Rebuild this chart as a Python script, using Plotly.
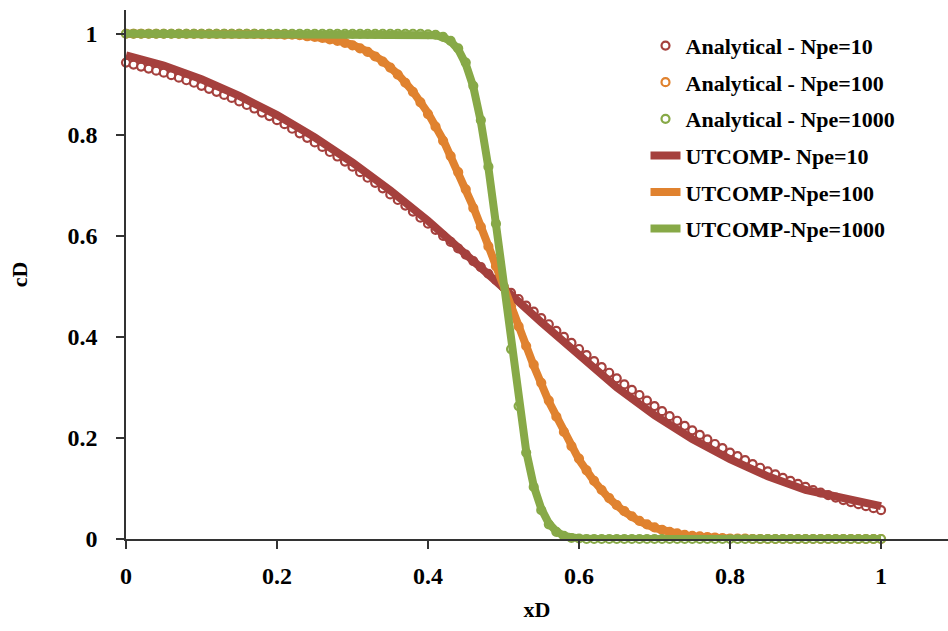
import plotly.graph_objects as go

# ---------------- data ----------------
x_analytical = [
    0.00, 0.01, 0.02, 0.03, 0.04, 0.05, 0.06, 0.07, 0.08, 0.09,
    0.10, 0.11, 0.12, 0.13, 0.14, 0.15, 0.16, 0.17, 0.18, 0.19,
    0.20, 0.21, 0.22, 0.23, 0.24, 0.25, 0.26, 0.27, 0.28, 0.29,
    0.30, 0.31, 0.32, 0.33, 0.34, 0.35, 0.36, 0.37, 0.38, 0.39,
    0.40, 0.41, 0.42, 0.43, 0.44, 0.45, 0.46, 0.47, 0.48, 0.49,
    0.50, 0.51, 0.52, 0.53, 0.54, 0.55, 0.56, 0.57, 0.58, 0.59,
    0.60, 0.61, 0.62, 0.63, 0.64, 0.65, 0.66, 0.67, 0.68, 0.69,
    0.70, 0.71, 0.72, 0.73, 0.74, 0.75, 0.76, 0.77, 0.78, 0.79,
    0.80, 0.81, 0.82, 0.83, 0.84, 0.85, 0.86, 0.87, 0.88, 0.89,
    0.90, 0.91, 0.92, 0.93, 0.94, 0.95, 0.96, 0.97, 0.98, 0.99,
    1.00,
]

analytical_npe10 = [
    0.943, 0.939, 0.935, 0.931, 0.927, 0.923, 0.918, 0.913, 0.908, 0.903,
    0.897, 0.891, 0.885, 0.879, 0.873, 0.866, 0.859, 0.852, 0.844, 0.837,
    0.829, 0.821, 0.812, 0.803, 0.794, 0.785, 0.776, 0.766, 0.757, 0.747,
    0.737, 0.726, 0.715, 0.705, 0.694, 0.682, 0.671, 0.660, 0.648, 0.636,
    0.624, 0.612, 0.600, 0.588, 0.575, 0.563, 0.550, 0.538, 0.525, 0.513,
    0.500, 0.487, 0.475, 0.462, 0.450, 0.437, 0.425, 0.412, 0.400, 0.388,
    0.376, 0.364, 0.352, 0.340, 0.329, 0.318, 0.306, 0.295, 0.285, 0.274,
    0.263, 0.253, 0.243, 0.234, 0.224, 0.215, 0.206, 0.197, 0.188, 0.180,
    0.171, 0.164, 0.156, 0.148, 0.141, 0.134, 0.128, 0.121, 0.115, 0.109,
    0.103, 0.097, 0.092, 0.087, 0.082, 0.077, 0.073, 0.069, 0.065, 0.061,
    0.057,
]

analytical_npe100 = [
    1.000, 1.000, 1.000, 1.000, 1.000, 1.000, 1.000, 1.000, 1.000, 1.000,
    1.000, 1.000, 1.000, 1.000, 1.000, 1.000, 1.000, 1.000, 0.999, 0.999,
    0.999, 0.998, 0.998, 0.997, 0.995, 0.994, 0.992, 0.989, 0.986, 0.982,
    0.977, 0.971, 0.964, 0.955, 0.945, 0.933, 0.919, 0.903, 0.885, 0.864,
    0.841, 0.816, 0.788, 0.758, 0.726, 0.692, 0.655, 0.618, 0.579, 0.540,
    0.500, 0.460, 0.421, 0.382, 0.345, 0.309, 0.274, 0.242, 0.212, 0.184,
    0.159, 0.136, 0.115, 0.097, 0.081, 0.067, 0.055, 0.045, 0.036, 0.029,
    0.023, 0.018, 0.014, 0.011, 0.008, 0.006, 0.005, 0.004, 0.003, 0.002,
    0.001, 0.001, 0.001, 0.000, 0.000, 0.000, 0.000, 0.000, 0.000, 0.000,
    0.000, 0.000, 0.000, 0.000, 0.000, 0.000, 0.000, 0.000, 0.000, 0.000,
    0.000,
]

analytical_npe1000 = [
    1.000, 1.000, 1.000, 1.000, 1.000, 1.000, 1.000, 1.000, 1.000, 1.000,
    1.000, 1.000, 1.000, 1.000, 1.000, 1.000, 1.000, 1.000, 1.000, 1.000,
    1.000, 1.000, 1.000, 1.000, 1.000, 1.000, 1.000, 1.000, 1.000, 1.000,
    1.000, 1.000, 1.000, 1.000, 1.000, 1.000, 1.000, 1.000, 1.000, 1.000,
    0.999, 0.998, 0.994, 0.986, 0.971, 0.943, 0.897, 0.829, 0.737, 0.624,
    0.500, 0.376, 0.263, 0.171, 0.103, 0.057, 0.029, 0.014, 0.006, 0.002,
    0.001, 0.000, 0.000, 0.000, 0.000, 0.000, 0.000, 0.000, 0.000, 0.000,
    0.000, 0.000, 0.000, 0.000, 0.000, 0.000, 0.000, 0.000, 0.000, 0.000,
    0.000, 0.000, 0.000, 0.000, 0.000, 0.000, 0.000, 0.000, 0.000, 0.000,
    0.000, 0.000, 0.000, 0.000, 0.000, 0.000, 0.000, 0.000, 0.000, 0.000,
    0.000,
]

x_utcomp_npe10 = [0.00, 0.05, 0.10, 0.15, 0.20, 0.25, 0.30, 0.35, 0.40, 0.45,
                  0.50, 0.55, 0.60, 0.65, 0.70, 0.75, 0.80, 0.85, 0.90, 0.95, 1.00]
utcomp_npe10 = [0.957, 0.937, 0.910, 0.877, 0.839, 0.795, 0.745, 0.690, 0.630, 0.565,
                0.497, 0.429, 0.362, 0.300, 0.245, 0.198, 0.158, 0.124, 0.097, 0.079, 0.065]

x_utcomp_npe100 = [0.00, 0.10, 0.20, 0.22, 0.24, 0.26, 0.28, 0.30, 0.32, 0.34,
                   0.36, 0.38, 0.40, 0.42, 0.44, 0.46, 0.48, 0.50, 0.52, 0.54,
                   0.56, 0.58, 0.60, 0.62, 0.64, 0.66, 0.68, 0.70, 0.72, 0.74,
                   0.76, 0.78, 0.80, 0.85, 1.00]
utcomp_npe100 = [1.000, 1.000, 1.000, 0.998, 0.996, 0.993, 0.987, 0.978, 0.965, 0.946,
                 0.920, 0.886, 0.843, 0.790, 0.728, 0.657, 0.580, 0.500, 0.420, 0.343,
                 0.272, 0.210, 0.157, 0.114, 0.080, 0.054, 0.035, 0.022, 0.013, 0.007,
                 0.004, 0.002, 0.001, 0.000, 0.000]

x_utcomp_npe1000 = [0.00, 0.20, 0.38, 0.40, 0.41, 0.42, 0.43, 0.44, 0.45, 0.46,
                    0.47, 0.48, 0.49, 0.50, 0.51, 0.52, 0.53, 0.54, 0.55, 0.56,
                    0.57, 0.58, 0.59, 0.60, 0.62, 0.80, 1.00]
utcomp_npe1000 = [1.000, 1.000, 1.000, 0.999, 0.997, 0.993, 0.985, 0.969, 0.940, 0.895,
                  0.826, 0.735, 0.623, 0.500, 0.377, 0.265, 0.174, 0.105, 0.060, 0.031,
                  0.015, 0.006, 0.002, 0.001, 0.000, 0.000, 0.000]

tick_values = [0, 0.2, 0.4, 0.6, 0.8, 1]
tick_labels = ["0", "0.2", "0.4", "0.6", "0.8", "1"]

series_names = ["Analytical - Npe=10", "Analytical - Npe=100", "Analytical - Npe=1000",
                "UTCOMP- Npe=10", "UTCOMP-Npe=100", "UTCOMP-Npe=1000"]

# ---------------- styles ----------------
RED = "#A5403D"
ORANGE = "#E0822F"
GREEN = "#87A947"
FONT = "Liberation Serif"

fig = go.Figure()

analytical = [analytical_npe10, analytical_npe100, analytical_npe1000]
utcomp = [(x_utcomp_npe10, utcomp_npe10), (x_utcomp_npe100, utcomp_npe100),
          (x_utcomp_npe1000, utcomp_npe1000)]
colors = [RED, ORANGE, GREEN]

for i, ys in enumerate(analytical):
    fig.add_trace(go.Scatter(
        x=x_analytical, y=ys, mode="markers", name=series_names[i],
        legendgroup=f"g{i}", cliponaxis=False,
        marker=dict(symbol="circle", size=8, color="white",
                    line=dict(color=colors[i], width=2.2)),
    ))

for i, (xs, ys) in enumerate(utcomp):
    fig.add_trace(go.Scatter(
        x=xs, y=ys, mode="lines", name=series_names[3 + i],
        legendgroup=f"g{3 + i}", cliponaxis=False,
        line=dict(color=colors[i], width=8),
    ))

axis_common = dict(
    showgrid=False, zeroline=False, showline=True, linecolor="#333333", linewidth=1.5,
    ticks="outside", ticklen=8, tickwidth=1.5, tickcolor="#333333",
    tickvals=tick_values, ticktext=tick_labels,
    tickfont=dict(family=FONT, size=24, color="black", weight="bold"),
)

fig.update_layout(
    width=948, height=631,
    margin=dict(l=126, r=0, t=10, b=92),
    paper_bgcolor="white", plot_bgcolor="white",
    xaxis=dict(range=[0, 1.0887], title=dict(text="xD", standoff=14,
               font=dict(family=FONT, size=22, color="black", weight="bold")),
               ticklabelstandoff=6, **axis_common),
    yaxis=dict(range=[0, 1.047], title=dict(text="cD", standoff=34,
               font=dict(family=FONT, size=22, color="black", weight="bold")),
               ticklabelstandoff=14, **axis_common),
    legend=dict(x=0.632, y=0.972, xanchor="left", yanchor="top",
                bgcolor="rgba(0,0,0,0)", tracegroupgap=5, traceorder="grouped",
                font=dict(family=FONT, size=22, color="black", weight="bold")),
    showlegend=True,
)

fig.write_html("out.html")
